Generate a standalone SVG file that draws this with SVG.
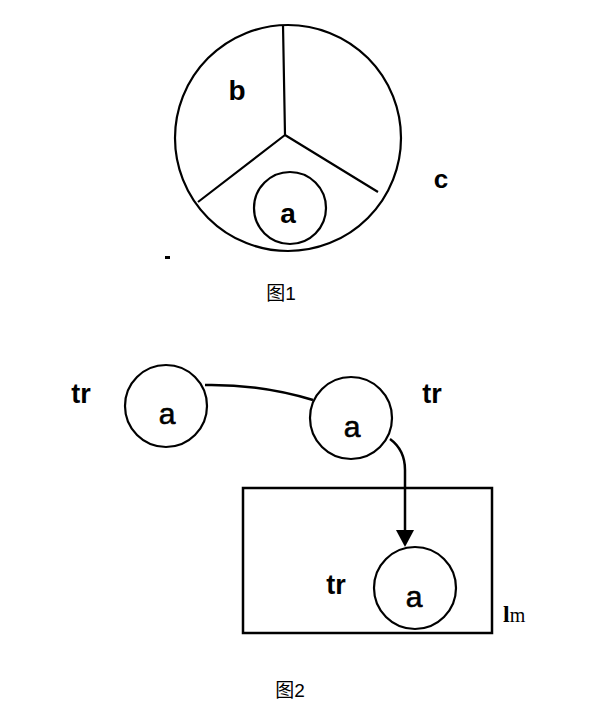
<svg xmlns="http://www.w3.org/2000/svg" width="599" height="711" viewBox="0 0 599 711">
<style>
.s{fill:none;stroke:#000;stroke-width:2.2}
.t{font-family:"Liberation Sans",Arial,sans-serif;fill:#000}
.b{font-weight:bold}
.na{font-size:30px;stroke:#000;stroke-width:0.6}
.cjk{font-family:"Liberation Sans","Noto Sans CJK SC",sans-serif;fill:#000;font-size:19px}
</style>
<rect width="599" height="711" fill="#fff"/>
<g id="fig1">
<circle class="s" cx="288" cy="138" r="113"/>
<path class="s" d="M283,25 L285,135 M285,135 L198,202 M285,135 L378,192"/>
<circle class="s" cx="290" cy="208" r="36"/>
<text class="t b" x="288" y="223" font-size="28" text-anchor="middle">a</text>
<text class="t b" x="237" y="100" font-size="28" text-anchor="middle">b</text>
<text class="t b" x="441" y="188" font-size="26" text-anchor="middle">c</text>
<rect x="165" y="256" width="5" height="3" fill="#000"/>
<text class="cjk" x="281" y="300" text-anchor="middle">图1</text>
</g>
<g id="n1">
<circle class="s" cx="166" cy="406" r="41"/>
<text class="t na" x="167" y="424" text-anchor="middle">a</text>
<text class="t b" x="81" y="403" font-size="27" text-anchor="middle">tr</text>
</g>
<g id="n2">
<circle class="s" cx="351" cy="418" r="41"/>
<text class="t na" x="352" y="437" text-anchor="middle">a</text>
<text class="t b" x="432" y="403" font-size="27" text-anchor="middle">tr</text>
</g>
<g id="box">
<rect x="243" y="488" width="249" height="145" fill="none" stroke="#000" stroke-width="2.5"/>
<text x="503" y="622" font-size="24" style="font-family:'Liberation Serif',serif"><tspan font-weight="bold">l</tspan><tspan font-size="20">m</tspan></text>
</g>
<g id="n3">
<circle class="s" cx="415" cy="588" r="41"/>
<text class="t na" x="414" y="607" text-anchor="middle">a</text>
<text class="t b" x="336" y="594" font-size="27" text-anchor="middle">tr</text>
</g>
<g id="connectors">
<path d="M205,385 Q260,384 313,400" fill="none" stroke="#000" stroke-width="2.5"/>
<path d="M390,439 Q405,450 405,470 L405,532" fill="none" stroke="#000" stroke-width="2.5"/>
<path d="M396,530 L414,530 L405,547 Z" fill="#000"/>
</g>
<text class="cjk" x="290" y="697" text-anchor="middle">图2</text>
</svg>
